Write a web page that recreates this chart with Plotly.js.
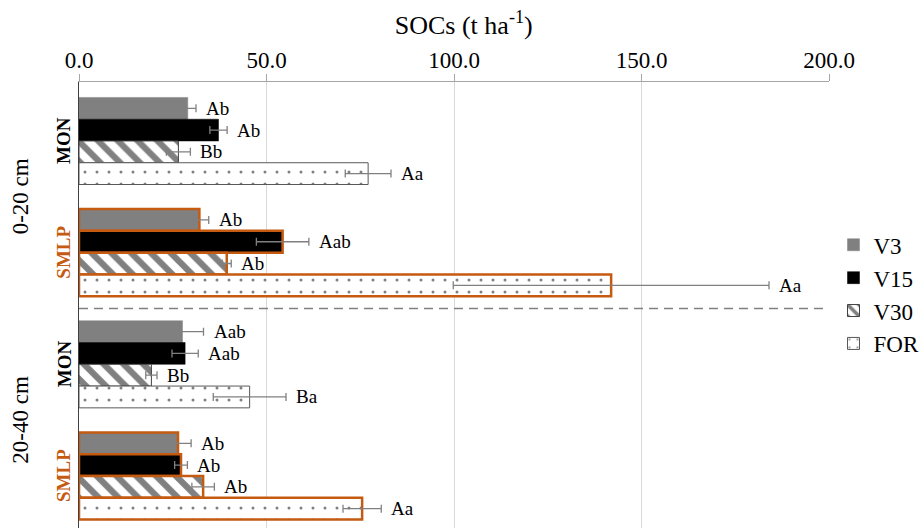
<!DOCTYPE html>
<html>
<head>
<meta charset="utf-8">
<script src="https://cdn.plot.ly/plotly-3.0.1.min.js"></script>
<style>html,body{margin:0;padding:0;background:#fff;}#chart{width:921px;height:528px;}</style>
</head>
<body>
<div id="chart"></div>
<script>
// ---- data ----
var categories = ['MON 0-20 cm', 'SMLP 0-20 cm', 'MON 20-40 cm', 'SMLP 20-40 cm'];
var systems = ['MON', 'SMLP', 'MON', 'SMLP'];
var depths = ['0-20 cm', '20-40 cm'];
var seriesNames = ['V3', 'V15', 'V30', 'FOR'];

var v3 = [29.0, 32.1, 27.6, 26.4];
var v3Err = [2.2, 2.5, 5.6, 3.5];
var v3Lab = ['Ab', 'Ab', 'Aab', 'Ab'];

var v15 = [37.2, 54.3, 28.3, 27.2];
var v15Err = [2.3, 7.0, 3.5, 1.7];
var v15Lab = ['Ab', 'Aab', 'Aab', 'Ab'];

var v30 = [26.5, 39.4, 19.3, 33.1];
var v30Err = [3.2, 1.2, 1.5, 3.0];
var v30Lab = ['Bb', 'Ab', 'Bb', 'Ab'];

var forest = [77.1, 141.9, 45.5, 75.5];
var forestErr = [6.1, 42.1, 9.7, 5.1];
var forestLab = ['Aa', 'Aa', 'Ba', 'Aa'];

var xTicks = [0, 50, 100, 150, 200];

// ---- styles ----
var FONT = '"Liberation Serif", "Times New Roman", serif';
var ORANGE = '#C55A11';
var GRAY = '#808080';
var bargap = 0.22;

function lineColors(base) {
  return systems.map(function (s) { return s === 'SMLP' ? ORANGE : base; });
}
function lineWidths(base) {
  return systems.map(function (s) { return s === 'SMLP' ? 2.5 : base; });
}

var values = [v3, v15, v30, forest];
var errs = [v3Err, v15Err, v30Err, forestErr];
var labs = [v3Lab, v15Lab, v30Lab, forestLab];

var markers = [
  {color: GRAY, line: {color: lineColors(GRAY), width: lineWidths(0.5)}},
  {color: '#000000', line: {color: lineColors('#000000'), width: lineWidths(0.5)}},
  {color: '#ffffff', line: {color: lineColors('#404040'), width: lineWidths(1)},
   pattern: {shape: '\\', fgcolor: GRAY, bgcolor: '#ffffff', size: 14, solidity: 0.45, fillmode: 'replace'}},
  {color: '#ffffff', line: {color: lineColors('#595959'), width: lineWidths(1)},
   pattern: {shape: '.', fgcolor: GRAY, bgcolor: '#ffffff', size: 12, solidity: 0.05, fillmode: 'replace'}}
];

var traces = seriesNames.map(function (name, j) {
  return {
    type: 'bar',
    orientation: 'h',
    name: name,
    y: categories,
    x: values[j],
    marker: markers[j],
    error_x: {type: 'data', array: errs[j], visible: true, color: GRAY, thickness: 1.3, width: 4},
    hoverinfo: 'x+name'
  };
});

// letter annotations
var annotations = [];
var bw = (1 - bargap) / seriesNames.length;
seriesNames.forEach(function (name, j) {
  values[j].forEach(function (v, i) {
    annotations.push({
      x: v + errs[j][i], y: i - (1 - bargap) / 2 + (j + 0.5) * bw,
      xref: 'x', yref: 'y', text: labs[j][i], showarrow: false,
      xanchor: 'left', yanchor: 'middle', xshift: 8,
      font: {family: FONT, size: 19, color: '#000000'}
    });
  });
});
// system labels
systems.forEach(function (s, i) {
  annotations.push({
    x: -0.02, xref: 'paper', y: i, yref: 'y', text: '<b>' + s + '</b>',
    textangle: -90, showarrow: false, xanchor: 'center', yanchor: 'middle',
    font: {family: FONT, size: 19, color: s === 'SMLP' ? ORANGE : '#000000'}
  });
});
// depth labels
depths.forEach(function (d, k) {
  annotations.push({
    x: -0.078, xref: 'paper', y: 2 * k + 0.5, yref: 'y', text: d,
    textangle: -90, showarrow: false, xanchor: 'center', yanchor: 'middle',
    font: {family: FONT, size: 23, color: '#000000'}
  });
});

var layout = {
  width: 921, height: 528,
  margin: {l: 79, r: 92, t: 82, b: 0, pad: 0, autoexpand: false},
  paper_bgcolor: '#ffffff', plot_bgcolor: '#ffffff',
  font: {family: FONT, color: '#000000'},
  barmode: 'group', bargap: bargap, bargroupgap: 0,
  title: {text: 'SOCs (t ha<sup>-1</sup>)', font: {family: FONT, size: 26, color: '#000000'},
          x: 0.513, xref: 'paper', xanchor: 'center', y: 0.953, yref: 'container', yanchor: 'middle'},
  xaxis: {
    side: 'top', range: [0, 200], tickvals: xTicks, tickformat: '.1f',
    showgrid: true, gridcolor: '#d9d9d9', gridwidth: 1, zeroline: false,
    showline: true, linecolor: '#a6a6a6', linewidth: 1,
    ticks: 'outside', ticklen: 7, tickcolor: '#a6a6a6', tickwidth: 1,
    tickfont: {family: FONT, size: 23, color: '#000000'}, ticklabelstandoff: -3,
    fixedrange: true
  },
  yaxis: {
    type: 'category', categoryorder: 'array', categoryarray: categories,
    range: [3.466, -0.528], showticklabels: false, ticks: '',
    showgrid: false, zeroline: false, showline: true, linecolor: '#404040', linewidth: 1,
    fixedrange: true
  },
  showlegend: true,
  legend: {x: 1.006, xanchor: 'left', y: 0.524, yanchor: 'middle', traceorder: 'normal',
           font: {family: FONT, size: 23, color: '#000000'}, bgcolor: 'rgba(0,0,0,0)', borderwidth: 0,
           itemwidth: 30, tracegroupgap: 0},
  shapes: [{type: 'line', xref: 'x', yref: 'y', x0: 0, x1: 199, y0: 1.5, y1: 1.5,
            line: {color: GRAY, width: 1.5, dash: '9px,6px'}}],
  annotations: annotations
};

Plotly.newPlot('chart', traces, layout, {displayModeBar: false, staticPlot: true});
</script>
</body>
</html>
